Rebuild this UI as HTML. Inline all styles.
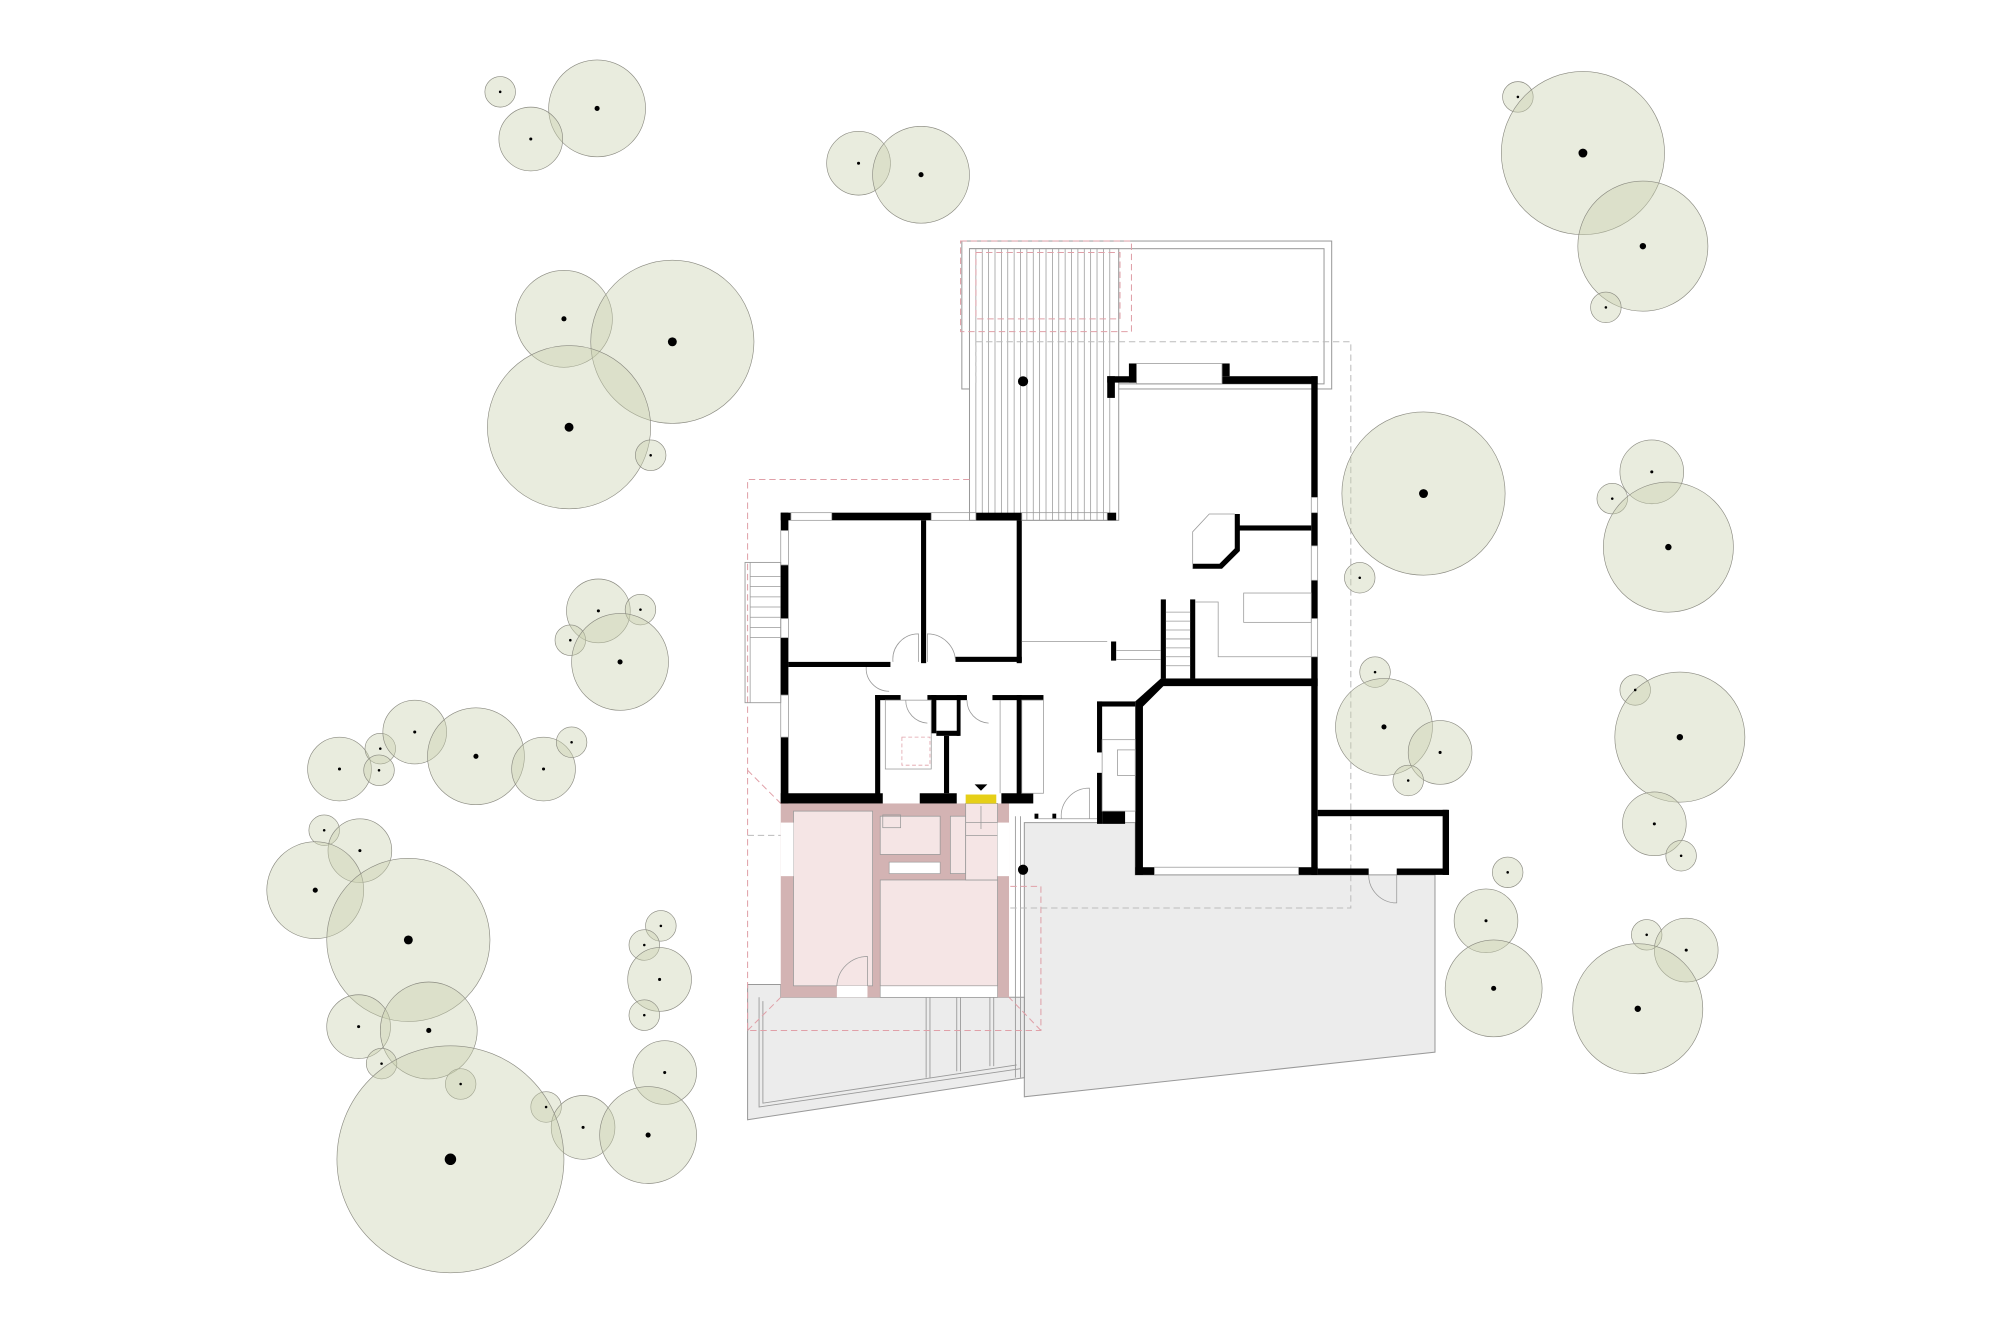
<!DOCTYPE html>
<html><head><meta charset="utf-8"><style>html,body{margin:0;padding:0;background:#fff}svg{display:block}</style></head>
<body>
<svg width="2000" height="1333" viewBox="0 0 1560 1040" xmlns="http://www.w3.org/2000/svg">
<rect width="1560" height="1040" fill="#fff"/>
<g transform="scale(0.995)">
<!-- terrain -->
<polygon points="803,645 890,645 890,686 1125,686 1125,825 803,860" fill="#ececec" stroke="#999" stroke-width="0.8"/>
<polygon points="586,772 612,772 612,782 803,782 803,845 586,878" fill="#ececec" stroke="#999" stroke-width="0.8"/>
<polyline points="595,782 595,868 800,838" fill="none" stroke="#999" stroke-width="0.7"/>
<polyline points="598,785 598,865 797,835" fill="none" stroke="#999" stroke-width="0.7"/>
<g stroke="#999" stroke-width="0.7"><line x1="726" y1="782" x2="726" y2="845"/><line x1="729" y1="782" x2="729" y2="845"/><line x1="750" y1="782" x2="750" y2="840"/><line x1="753" y1="782" x2="753" y2="840"/><line x1="776" y1="782" x2="776" y2="836"/><line x1="779" y1="782" x2="779" y2="836"/><line x1="800" y1="640" x2="800" y2="845"/><line x1="796" y1="640" x2="796" y2="845"/></g>
<!-- deck -->
<rect x="754" y="189" width="290" height="116" fill="none" stroke="#999" stroke-width="0.8"/>
<rect x="760" y="195" width="278" height="106" fill="none" stroke="#999" stroke-width="0.8"/>
<rect x="760" y="195" width="117" height="213" fill="#fff" stroke="#999" stroke-width="0.8"/>
<g stroke="#999" stroke-width="0.6">
<line x1="765" y1="195" x2="765" y2="408"/><line x1="770" y1="195" x2="770" y2="408"/><line x1="775" y1="195" x2="775" y2="408"/><line x1="780" y1="195" x2="780" y2="408"/><line x1="785" y1="195" x2="785" y2="408"/><line x1="790" y1="195" x2="790" y2="408"/><line x1="795" y1="195" x2="795" y2="408"/><line x1="800" y1="195" x2="800" y2="408"/><line x1="805" y1="195" x2="805" y2="408"/><line x1="810" y1="195" x2="810" y2="408"/><line x1="815" y1="195" x2="815" y2="408"/><line x1="820" y1="195" x2="820" y2="408"/><line x1="825" y1="195" x2="825" y2="408"/><line x1="830" y1="195" x2="830" y2="408"/><line x1="835" y1="195" x2="835" y2="408"/><line x1="840" y1="195" x2="840" y2="408"/><line x1="845" y1="195" x2="845" y2="408"/><line x1="850" y1="195" x2="850" y2="408"/><line x1="855" y1="195" x2="855" y2="408"/><line x1="860" y1="195" x2="860" y2="408"/><line x1="865" y1="195" x2="865" y2="408"/><line x1="870" y1="195" x2="870" y2="408"/></g>
<!-- dashed -->
<g fill="none" stroke-dasharray="5,3" stroke-width="0.8">
<rect x="753" y="189" width="134" height="71" stroke="#e0a0a8"/>
<rect x="765" y="198" width="113" height="52" stroke="#e0a0a8"/>
<polyline points="760,376 586,376 586,808 816,808 816,695 765,695" stroke="#e0a0a8"/>
<polyline points="765,300 765,268 1059,268 1059,712 765,712 765,655" stroke="#bbb"/>
<line x1="586" y1="655" x2="765" y2="655" stroke="#bbb"/>
<polyline points="586,604 612,630" stroke="#e0a0a8"/>
<polyline points="586,808 612,782" stroke="#e0a0a8"/>
<polyline points="816,808 791,782" stroke="#e0a0a8"/>
</g>
<!-- left stairs -->
<rect x="584" y="441" width="28" height="110" fill="none" stroke="#999" stroke-width="0.7"/>
<g stroke="#999" stroke-width="0.6"><line x1="588" y1="452" x2="612" y2="452"/><line x1="588" y1="460" x2="612" y2="460"/><line x1="588" y1="468" x2="612" y2="468"/><line x1="588" y1="476" x2="612" y2="476"/><line x1="588" y1="484" x2="612" y2="484"/><line x1="588" y1="492" x2="612" y2="492"/><line x1="588" y1="500" x2="612" y2="500"/><line x1="588" y1="441" x2="588" y2="551"/></g>
<!-- pink extension -->
<rect x="612" y="630" width="179" height="152" fill="#d3b3b3"/>
<rect x="622" y="636" width="62" height="137" fill="#f5e5e5" stroke="#999" stroke-width="0.6"/>
<rect x="690" y="690" width="92" height="83" fill="#f5e5e5" stroke="#999" stroke-width="0.6"/>
<rect x="690" y="640" width="47" height="30" fill="#f5e5e5" stroke="#999" stroke-width="0.6"/>
<rect x="745" y="640" width="12" height="45" fill="#f5e5e5" stroke="#999" stroke-width="0.6"/>
<rect x="757" y="630" width="25" height="60" fill="#f5e5e5" stroke="#999" stroke-width="0.6"/>
<rect x="782" y="645" width="9" height="42" fill="#fff"/>
<rect x="612" y="645" width="10" height="42" fill="#fff"/>
<rect x="656" y="773" width="24" height="9" fill="#fff"/>
<rect x="690" y="773" width="92" height="9" fill="#fff" stroke="#999" stroke-width="0.5"/>
<rect x="697" y="676" width="40" height="9" fill="#fff" stroke="#999" stroke-width="0.5"/>
<path d="M656,773 A24,24 0 0 1 680,750 L680,773" fill="none" stroke="#999" stroke-width="0.6"/>
<rect x="757" y="623" width="24" height="7" fill="#e6cf17"/>
<polygon points="764,615 774,615 769,620" fill="#000"/>
<!-- black walls -->
<g fill="#000">
<rect x="612" y="402" width="8" height="6"/><rect x="652" y="402" width="78" height="6"/><rect x="765" y="402" width="36" height="6"/><rect x="868" y="402" width="7" height="6"/>
<rect x="612" y="402" width="6" height="14"/><rect x="612" y="443" width="6" height="42"/><rect x="612" y="500" width="6" height="45"/><rect x="612" y="578" width="6" height="52"/>
<rect x="722" y="408" width="4" height="112"/><rect x="797" y="408" width="4" height="112"/><rect x="749" y="515" width="52" height="4"/>
<rect x="618" y="519" width="80" height="4"/>
<rect x="612" y="622" width="80" height="8"/><rect x="721" y="622" width="29" height="8"/><rect x="785" y="622" width="25" height="8"/>
<rect x="686" y="545" width="4" height="80"/><rect x="686" y="545" width="20" height="4"/><rect x="727" y="545" width="31" height="4"/><rect x="778" y="545" width="40" height="4"/>
<rect x="730" y="545" width="4" height="30"/><rect x="734" y="573" width="18" height="4"/><rect x="750" y="545" width="3" height="32"/>
<rect x="740" y="577" width="4" height="45"/><rect x="797" y="545" width="4" height="78"/>
<rect x="885" y="285" width="6" height="15"/><rect x="868" y="295" width="23" height="5"/><rect x="958" y="285" width="6" height="10"/><rect x="958" y="295" width="75" height="6"/>
<rect x="868" y="295" width="6" height="17"/>
<rect x="1028" y="295" width="5" height="95"/><rect x="1028" y="402" width="5" height="26"/><rect x="1028" y="455" width="5" height="30"/><rect x="1028" y="515" width="5" height="171"/>
<rect x="970" y="412" width="58" height="4"/><polygon points="968,403 972,403 972,432 958,446 935,446 935,442 956,442 968,430"/>
<rect x="910" y="532" width="123" height="6"/><polygon points="910,532 914,536 895,555 890,550"/>
<rect x="890" y="550" width="6" height="136"/><rect x="890" y="680" width="15" height="6"/><rect x="1018" y="680" width="15" height="6"/>
<rect x="910" y="470" width="4" height="62"/><rect x="933" y="470" width="4" height="62"/>
<rect x="860" y="550" width="30" height="4"/><rect x="860" y="550" width="4" height="40"/><rect x="860" y="606" width="4" height="40"/><rect x="864" y="636" width="18" height="10"/>
<rect x="1033" y="635" width="102" height="5"/><rect x="1131" y="635" width="5" height="51"/><rect x="1033" y="681" width="40" height="5"/><rect x="1095" y="681" width="41" height="5"/>
<rect x="871" y="503" width="4" height="15"/>
<rect x="811" y="638" width="3" height="4"/><rect x="825" y="638" width="3" height="4"/>
</g>
<!-- thin interior lines -->
<g fill="none" stroke="#999" stroke-width="0.6">
<rect x="891" y="285" width="67" height="16"/>
<line x1="801" y1="503" x2="868" y2="503"/><line x1="875" y1="510" x2="910" y2="510"/><line x1="875" y1="517" x2="910" y2="517"/>
<rect x="975" y="465" width="53" height="23"/><polyline points="937,472 955,472 955,515 1028,515"/>
<polyline points="968,403 948,403 935,417 935,446"/>
<g><line x1="914" y1="480" x2="933" y2="480"/><line x1="914" y1="487" x2="933" y2="487"/><line x1="914" y1="494" x2="933" y2="494"/><line x1="914" y1="501" x2="933" y2="501"/><line x1="914" y1="508" x2="933" y2="508"/><line x1="914" y1="515" x2="933" y2="515"/><line x1="914" y1="522" x2="933" y2="522"/></g>
<path d="M700,519 A20,20 0 0 1 720,497 L720,519"/><path d="M749,519 A22,22 0 0 0 727,497 L727,519"/>
<path d="M697,542 A18,18 0 0 1 679,523"/><rect x="694" y="549" width="36" height="54"/><rect x="707" y="578" width="22" height="22" stroke="#e0a0a8" stroke-dasharray="3,2"/>
<path d="M710,549 A18,18 0 0 0 727,567"/><path d="M758,549 A18,18 0 0 0 775,567"/>
<line x1="784" y1="549" x2="784" y2="622"/><rect x="801" y="549" width="17" height="73"/>
<rect x="864" y="580" width="26" height="56"/><rect x="876" y="588" width="14" height="20"/>
<path d="M832,642 A22,22 0 0 1 854,618 L854,642"/><line x1="814" y1="642" x2="860" y2="642"/>
<rect x="905" y="680" width="113" height="6"/>
<path d="M1073,686 A22,22 0 0 0 1095,708 L1095,686"/>
<rect x="1028" y="390" width="5" height="12"/><rect x="1028" y="428" width="5" height="27"/><rect x="1028" y="485" width="5" height="30"/>
<rect x="620" y="402" width="32" height="6"/><rect x="730" y="402" width="35" height="6"/><rect x="801" y="402" width="67" height="6"/>
<rect x="612" y="416" width="6" height="27"/><rect x="612" y="485" width="6" height="15"/><rect x="612" y="545" width="6" height="33"/>
<rect x="692" y="639" width="14" height="10"/>
<line x1="769" y1="632" x2="769" y2="650"/><line x1="757" y1="645" x2="782" y2="645"/><line x1="757" y1="655" x2="782" y2="655"/>
</g>
<circle cx="802" cy="299" r="4" fill="#000"/>
<circle cx="802" cy="682" r="4" fill="#000"/>
<!-- trees -->
<g fill="#c9cfad" fill-opacity="0.4" stroke="#8a8a80" stroke-width="0.5">
<circle cx="392" cy="72" r="12"/><circle cx="468" cy="85" r="38"/><circle cx="416" cy="109" r="25"/>
<circle cx="673" cy="128" r="25"/><circle cx="722" cy="137" r="38"/>
<circle cx="1190" cy="76" r="12"/><circle cx="1241" cy="120" r="64"/><circle cx="1288" cy="193" r="51"/><circle cx="1259" cy="241" r="12"/>
<circle cx="442" cy="250" r="38"/><circle cx="527" cy="268" r="64"/><circle cx="446" cy="335" r="64"/><circle cx="510" cy="357" r="12"/>
<circle cx="1116" cy="387" r="64"/><circle cx="1066" cy="453" r="12"/>
<circle cx="1295" cy="370" r="25"/><circle cx="1264" cy="391" r="12"/><circle cx="1308" cy="429" r="51"/>
<circle cx="469" cy="479" r="25"/><circle cx="502" cy="478" r="12"/><circle cx="447" cy="502" r="12"/><circle cx="486" cy="519" r="38"/>
<circle cx="266" cy="603" r="25"/><circle cx="298" cy="587" r="12"/><circle cx="297" cy="604" r="12"/><circle cx="325" cy="574" r="25"/><circle cx="373" cy="593" r="38"/><circle cx="426" cy="603" r="25"/><circle cx="448" cy="582" r="12"/>
<circle cx="1078" cy="527" r="12"/><circle cx="1085" cy="570" r="38"/><circle cx="1129" cy="590" r="25"/><circle cx="1104" cy="612" r="12"/>
<circle cx="1282" cy="541" r="12"/><circle cx="1317" cy="578" r="51"/><circle cx="1297" cy="646" r="25"/><circle cx="1318" cy="671" r="12"/>
<circle cx="254" cy="651" r="12"/><circle cx="282" cy="667" r="25"/><circle cx="247" cy="698" r="38"/><circle cx="320" cy="737" r="64"/>
<circle cx="1182" cy="684" r="12"/><circle cx="1165" cy="722" r="25"/><circle cx="1171" cy="775" r="38"/>
<circle cx="1291" cy="733" r="12"/><circle cx="1322" cy="745" r="25"/><circle cx="1284" cy="791" r="51"/>
<circle cx="518" cy="726" r="12"/><circle cx="505" cy="741" r="12"/><circle cx="517" cy="768" r="25"/><circle cx="505" cy="796" r="12"/>
<circle cx="281" cy="805" r="25"/><circle cx="336" cy="808" r="38"/><circle cx="299" cy="834" r="12"/><circle cx="361" cy="850" r="12"/>
<circle cx="521" cy="841" r="25"/><circle cx="428" cy="868" r="12"/><circle cx="457" cy="884" r="25"/><circle cx="508" cy="890" r="38"/>
<circle cx="353" cy="909" r="89"/>
</g>
<g fill="#000">
<circle cx="392" cy="72" r="1"/><circle cx="468" cy="85" r="2"/><circle cx="416" cy="109" r="1.2"/>
<circle cx="673" cy="128" r="1.2"/><circle cx="722" cy="137" r="2"/>
<circle cx="1190" cy="76" r="1"/><circle cx="1241" cy="120" r="3.5"/><circle cx="1288" cy="193" r="2.5"/><circle cx="1259" cy="241" r="1"/>
<circle cx="442" cy="250" r="2"/><circle cx="527" cy="268" r="3.5"/><circle cx="446" cy="335" r="3.5"/><circle cx="510" cy="357" r="1"/>
<circle cx="1116" cy="387" r="3.5"/><circle cx="1066" cy="453" r="1"/>
<circle cx="1295" cy="370" r="1.2"/><circle cx="1264" cy="391" r="1"/><circle cx="1308" cy="429" r="2.5"/>
<circle cx="469" cy="479" r="1.2"/><circle cx="502" cy="478" r="1"/><circle cx="447" cy="502" r="1"/><circle cx="486" cy="519" r="2"/>
<circle cx="266" cy="603" r="1.2"/><circle cx="298" cy="587" r="1"/><circle cx="297" cy="604" r="1"/><circle cx="325" cy="574" r="1.2"/><circle cx="373" cy="593" r="2"/><circle cx="426" cy="603" r="1.2"/><circle cx="448" cy="582" r="1"/>
<circle cx="1078" cy="527" r="1"/><circle cx="1085" cy="570" r="2"/><circle cx="1129" cy="590" r="1.2"/><circle cx="1104" cy="612" r="1"/>
<circle cx="1282" cy="541" r="1"/><circle cx="1317" cy="578" r="2.5"/><circle cx="1297" cy="646" r="1.2"/><circle cx="1318" cy="671" r="1"/>
<circle cx="254" cy="651" r="1"/><circle cx="282" cy="667" r="1.2"/><circle cx="247" cy="698" r="2"/><circle cx="320" cy="737" r="3.5"/>
<circle cx="1182" cy="684" r="1"/><circle cx="1165" cy="722" r="1.2"/><circle cx="1171" cy="775" r="2"/>
<circle cx="1291" cy="733" r="1"/><circle cx="1322" cy="745" r="1.2"/><circle cx="1284" cy="791" r="2.5"/>
<circle cx="518" cy="726" r="1"/><circle cx="505" cy="741" r="1"/><circle cx="517" cy="768" r="1.2"/><circle cx="505" cy="796" r="1"/>
<circle cx="281" cy="805" r="1.2"/><circle cx="336" cy="808" r="2"/><circle cx="299" cy="834" r="1"/><circle cx="361" cy="850" r="1"/>
<circle cx="521" cy="841" r="1.2"/><circle cx="428" cy="868" r="1"/><circle cx="457" cy="884" r="1.2"/><circle cx="508" cy="890" r="2"/>
<circle cx="353" cy="909" r="4.5"/>
</g>
</g>
</svg>
</body></html>
